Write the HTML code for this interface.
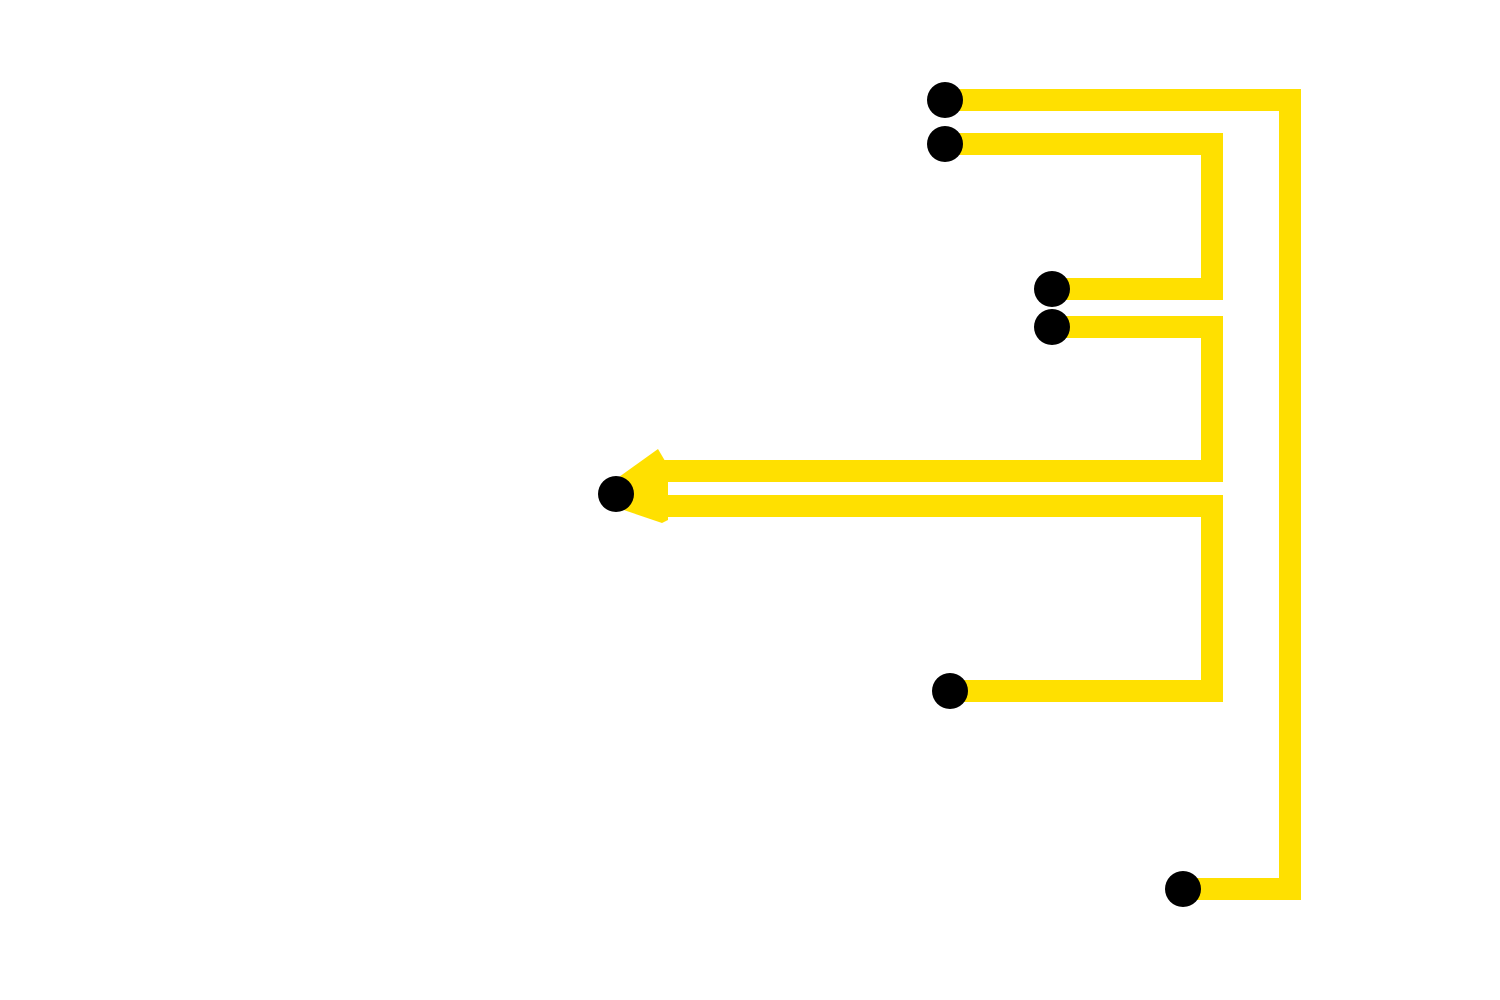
<!DOCTYPE html>
<html><head><style>html,body{margin:0;padding:0;background:#fff;}svg{display:block}</style></head>
<body>
<svg width="1500" height="1000" viewBox="0 0 1500 1000" xmlns="http://www.w3.org/2000/svg">
<g fill="none" stroke="#FFE000" stroke-width="22" stroke-linejoin="miter" stroke-linecap="butt">
<polyline points="945,100 1290,100 1290,889 1183,889"/>
<polyline points="945,144 1212,144 1212,289 1052,289"/>
<polyline points="1052,327 1212,327 1212,471 660,471"/>
<polyline points="660,506 1212,506 1212,691 950,691"/>
</g>
<polygon fill="#FFE000" points="612,482 658,449 668,466 668,520 662,523 612,506"/>
<g fill="#000">
<circle cx="945" cy="100" r="18"/>
<circle cx="945" cy="144" r="18"/>
<circle cx="1052" cy="289" r="18"/>
<circle cx="1052" cy="327" r="18"/>
<circle cx="616" cy="494" r="18"/>
<circle cx="950" cy="691" r="18"/>
<circle cx="1183" cy="889" r="18"/>
</g>
</svg>
</body></html>
